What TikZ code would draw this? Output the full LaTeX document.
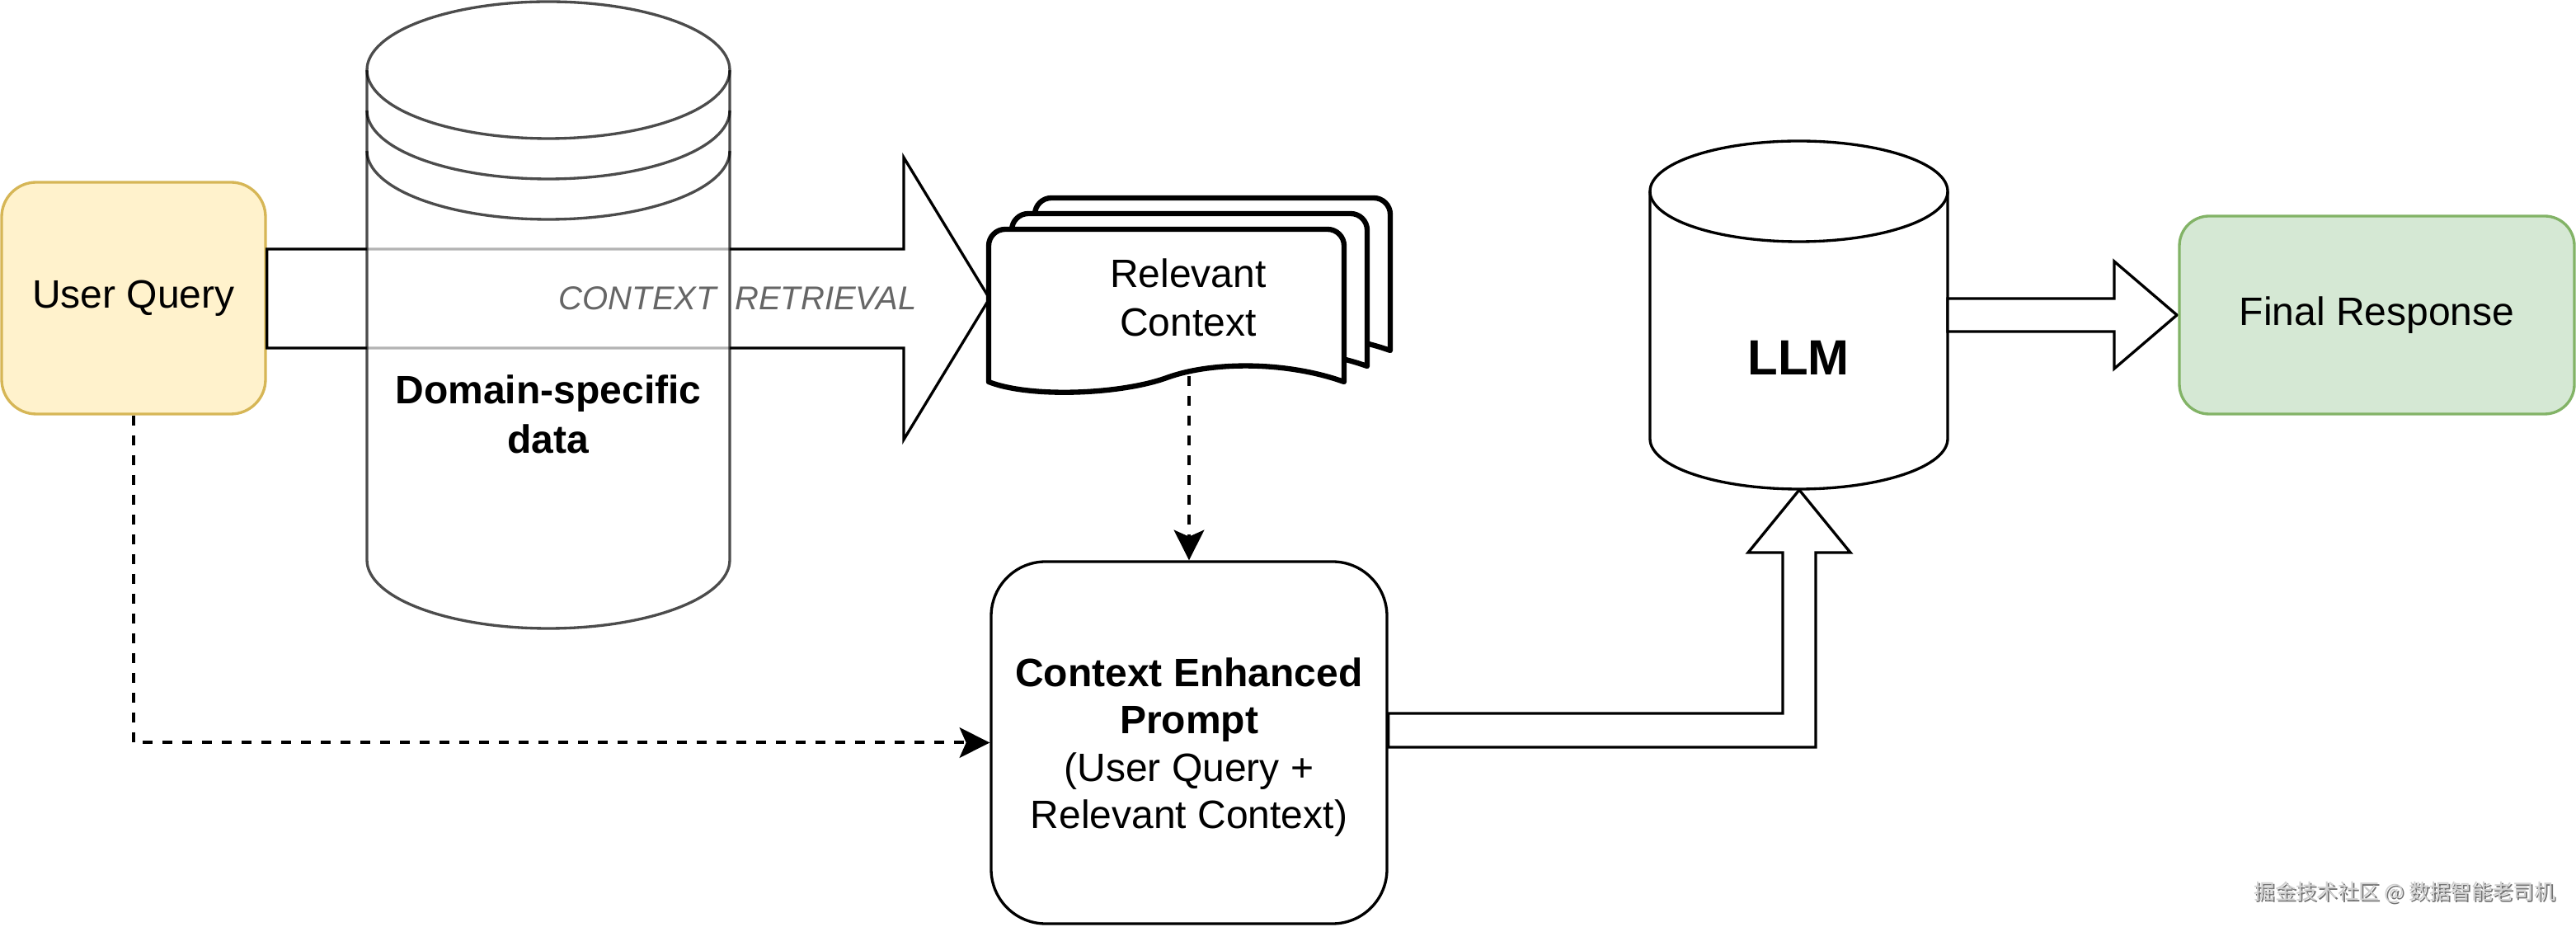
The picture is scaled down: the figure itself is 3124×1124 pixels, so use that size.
\documentclass[tikz,border=0pt]{standalone}
\usepackage{fontspec}
\setmainfont{Liberation Sans}
\newfontfamily\cjkfont{Noto Sans CJK SC}
\usetikzlibrary{arrows.meta}
\definecolor{uqfill}{HTML}{FFF2CC}
\definecolor{uqdraw}{HTML}{D6B656}
\definecolor{frfill}{HTML}{D5E8D4}
\definecolor{frdraw}{HTML}{82B366}
\definecolor{lbl}{HTML}{666666}
\begin{document}
\begin{tikzpicture}[x=0.3pt,y=-0.3pt,
  shapeline/.style={line width=1pt,draw=black,fill=white,line join=miter},
  domcyl/.style={line width=1pt,draw=black,fill=white,opacity=0.7},
  domarc/.style={line width=1pt,draw=black,opacity=0.7},
  pageline/.style={line width=1.9pt,draw=black,fill=white,line join=round},
  dashconn/.style={line width=1.2pt,dash pattern=on 3.6pt off 3.6pt,
     -{Stealth[length=11pt,width=11pt,inset=2.4pt]}},
  txt/.style={font=\fontsize{14.4}{17.6}\selectfont,align=center,inner sep=0pt},
  btxt/.style={font=\bfseries\fontsize{14.4}{18}\selectfont,align=center,inner sep=0pt},
  boxnode/.style={line width=1pt,rounded corners=#1,inner sep=0pt,align=center,
     font=\fontsize{14.4}{17.2}\selectfont}
]
\useasboundingbox (0,0) rectangle (3124,1124);
\fill[white] (0,0) rectangle (3124,1124);

% User Query
\node[boxnode=12.6pt, draw=uqdraw, fill=uqfill, minimum width=96pt, minimum height=84.3pt]
  (uq) at (162,361.5) {User Query};

% Context retrieval block arrow
\path[shapeline] (uq.east |- 0,302) -- (1096,302) -- (1096,191) -- (1200,362)
  -- (1096,533) -- (1096,422) -- (uq.east |- 0,422) -- cycle;

% Domain-specific data cylinder (semi-transparent)
\path[domcyl] (445,85) -- (445,679)
  arc[start angle=180,end angle=360,x radius=66pt,y radius=24.9pt]
  -- (885,85)
  arc[start angle=0,end angle=180,x radius=66pt,y radius=24.9pt] -- cycle;
\draw[domarc] (445,85) arc[start angle=180,end angle=360,x radius=66pt,y radius=24.9pt];
\draw[domarc] (445,134) arc[start angle=180,end angle=360,x radius=66pt,y radius=24.9pt];
\draw[domarc] (445,183) arc[start angle=180,end angle=360,x radius=66pt,y radius=24.9pt];
\node[btxt] (dom) at (665,502) {Domain-specific\\data};

\node[anchor=east, inner sep=0pt, text=lbl, font=\itshape\fontsize{12}{14}\selectfont]
  (ctxret) at (1112,362) {CONTEXT\ \ RETRIEVAL};

% Relevant Context (multiple documents)
\foreach \dx/\dy in {56/-38, 28/-19, 0/0} {
  \begin{scope}[shift={(\dx,\dy)}]
  \path[pageline] (1199,463) [rounded corners=6pt] -- (1199,278) -- (1630,278)
    [sharp corners] -- (1630,463)
    .. controls (1560,438) and (1470,438) .. (1415,458)
    .. controls (1360,478) and (1250,483) .. (1199,463) -- cycle;
  \end{scope}
}
\node[txt] (rc) at (1441,361) {Relevant\\Context};
\coordinate (rcbot) at (1442,456);

% Context Enhanced Prompt
\node[boxnode=19.8pt, draw=black, fill=white, minimum width=144pt, minimum height=131.7pt]
  (cep) at (1442,900.5) {};
\node[txt, font=\fontsize{14.4}{17.2}\selectfont] (ceptext) at (1442,906)
  {\textbf{Context Enhanced}\\\textbf{Prompt}\\(User Query +\\Relevant Context)};

% dashed connectors
\draw[dashconn] (rcbot) -- (cep.north);
\draw[dashconn] (uq.south) |- (cep.west);

% CEP -> LLM block arrow
\path[shapeline] (cep.east |- 0,865) -- (2162,865) -- (2162,670) -- (2120,670)
  -- (2182,594) -- (2244,670) -- (2202,670) -- (2202,906) -- (cep.east |- 0,906) -- cycle;

% LLM cylinder
\path[shapeline] (2001,232) -- (2001,532)
  arc[start angle=180,end angle=360,x radius=54.15pt,y radius=18.3pt]
  -- (2362,232)
  arc[start angle=0,end angle=180,x radius=54.15pt,y radius=18.3pt] -- cycle;
\draw[line width=1pt] (2001,232) arc[start angle=180,end angle=360,x radius=54.15pt,y radius=18.3pt];
\node[inner sep=0pt, font=\bfseries\fontsize{18}{22}\selectfont] (llm) at (2181,434) {LLM};

% LLM -> Final Response block arrow
\path[shapeline] (2362,362) -- (2564,362) -- (2564,317) -- (2640,382)
  -- (2564,447) -- (2564,402) -- (2362,402) -- cycle;

% Final Response
\node[boxnode=10.8pt, draw=frdraw, fill=frfill, minimum width=143.7pt, minimum height=72pt]
  (fr) at (2882.5,382) {Final Response};

% watermark
\node[inner sep=0pt, text=black!55, font=\cjkfont\fontsize{7.6}{10}\selectfont]
  (wmshadow) at (2918,1084) {掘金技术社区 @ 数据智能老司机};
\node[inner sep=0pt, text=black!18, font=\cjkfont\fontsize{7.6}{10}\selectfont]
  (wm) at (2916,1082) {掘金技术社区 @ 数据智能老司机};
\end{tikzpicture}
\end{document}
